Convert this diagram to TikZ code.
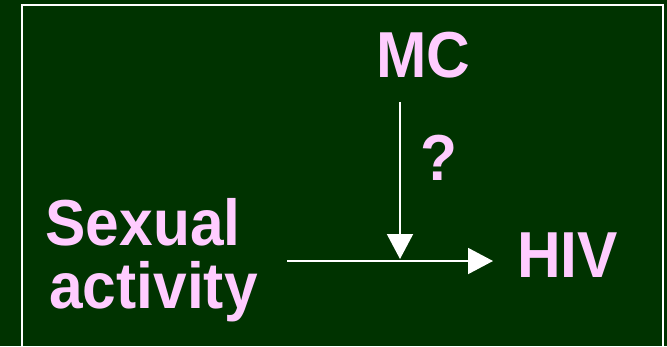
\documentclass[tikz,border=0pt]{standalone}
\usepackage{fontspec}
\setmainfont{Liberation Sans}
\usetikzlibrary{arrows.meta}
\definecolor{bg}{HTML}{003300}
\definecolor{pinktext}{HTML}{FFCCFF}
\tikzset{
  lbl/.style={text=pinktext, font=\fontsize{65}{70}\selectfont\bfseries, inner sep=0pt, anchor=base, xscale=0.93, transform shape},
  arr/.style={draw=white, line width=2pt, -{Triangle[length=25pt,width=26pt]}}
}
\begin{document}
\begin{tikzpicture}[x=1pt,y=-1pt]
\fill[bg] (0,0) rectangle (667,346);
\useasboundingbox (0,0) rectangle (667,346);
\draw[white, line width=2pt] (22,360) -- (22,5) -- (663,5) -- (663,360);
\node[lbl] (mc) at (423.5,77) {MC};
\node[lbl] (q) at (439,180) {?};
\node[lbl] (hiv) at (567.5,277) {HIV};
\node[lbl] (sex) at (143,245) {Sexual};
\node[lbl] (act) at (153.5,308) {activity};
\coordinate (vs) at (400,102);
\coordinate (ve) at (400,259);
\coordinate (hs) at (287,261);
\coordinate (he) at (493,261);
\draw[arr] (vs) -- (ve);
\draw[arr] (hs) -- (he);
\end{tikzpicture}
\end{document}
